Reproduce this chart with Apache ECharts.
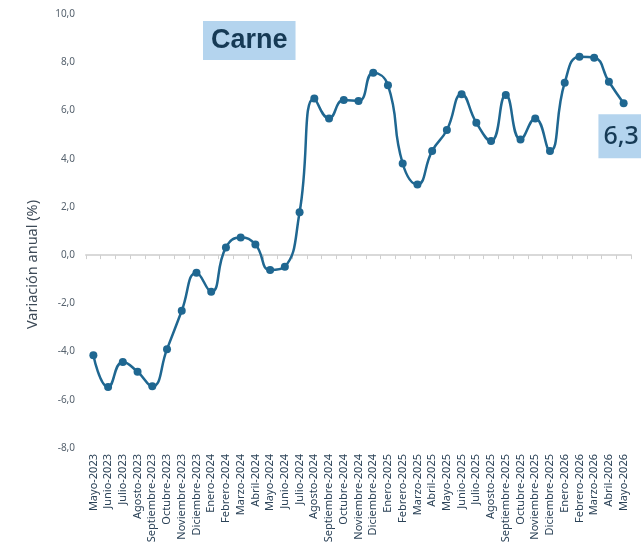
<!DOCTYPE html>
<html><head><meta charset="utf-8">
<script src="https://cdn.jsdelivr.net/npm/echarts@6/dist/echarts.min.js"></script>
<style>html,body{margin:0;padding:0;background:#fff}#c{width:641px;height:543px}</style>
</head><body><div id="c"></div>
<script>
const categories = ["Mayo-2023","Junio-2023","Julio-2023","Agosto-2023","Septiembre-2023","Octubre-2023","Noviembre-2023","Diciembre-2023","Enero-2024","Febrero-2024","Marzo-2024","Abril-2024","Mayo-2024","Junio-2024","Julio-2024","Agosto-2024","Septiembre-2024","Octubre-2024","Noviembre-2024","Diciembre-2024","Enero-2025","Febrero-2025","Marzo-2025","Abril-2025","Mayo-2025","Junio-2025","Julio-2025","Agosto-2025","Septiembre-2025","Octubre-2025","Noviembre-2025","Diciembre-2025","Enero-2026","Febrero-2026","Marzo-2026","Abril-2026","Mayo-2026"];
const values = [-4.15,-5.47,-4.43,-4.84,-5.44,-3.9,-2.31,-0.73,-1.52,0.32,0.73,0.44,-0.62,-0.48,1.78,6.5,5.67,6.43,6.39,7.56,7.05,3.8,2.93,4.32,5.19,6.67,5.49,4.73,6.64,4.8,5.67,4.32,7.15,8.23,8.19,7.19,6.3];
const titleText = "Carne";
const yName = "Variación anual (%)";

const fmt = v => v.toFixed(1).replace('.', ',');
const data = values.map((v, i) => i === values.length - 1 ? {
  value: v,
  label: {
    show: true, position: 'bottom', distance: 7,
    formatter: p => fmt(p.value),
    backgroundColor: '#b4d4ee', color: '#163a55',
    fontSize: 25, fontFamily: 'Noto Sans', fontWeight: 500, lineHeight: 26,
    padding: [10, 6, 8, 5], offset: [-2, 0]
  }
} : v);

const chart = echarts.init(document.getElementById('c'), null, {renderer: 'canvas'});
chart.setOption({
  animation: false,
  title: {
    text: titleText, left: 203, top: 21,
    backgroundColor: '#b4d4ee', padding: [6, 8, 6, 8],
    textStyle: {fontFamily: 'Liberation Sans', fontWeight: 'bold', fontSize: 27, color: '#163a55', lineHeight: 27}
  },
  graphic: [{
    type: 'text', left: 25, top: 200, rotation: Math.PI / 2,
    style: {text: yName, fontFamily: 'Noto Sans', fontSize: 14.5, fill: '#3d4a57'}
  }],
  grid: {left: 86, right: 10, top: 14, bottom: 95, containLabel: false, outerBoundsMode: 'none'},
  xAxis: {
    type: 'category', data: categories,
    axisLine: {onZero: true, lineStyle: {color: '#d9d9d9', width: 2}},
    axisTick: {show: true, length: 4, lineStyle: {color: '#cfcfcf', width: 1}},
    axisLabel: {rotate: 90, interval: 0, fontSize: 11, color: '#2b4257', fontFamily: 'Noto Sans', margin: 6}
  },
  yAxis: {
    type: 'value', min: -8, max: 10, interval: 2,
    splitLine: {show: false}, axisLine: {show: false}, axisTick: {show: false},
    axisLabel: {formatter: v => fmt(v), fontSize: 10, color: '#56626e', fontFamily: 'Noto Sans', margin: 11}
  },
  series: [{
    type: 'line', data: data, smooth: 0.5,
    symbol: 'circle', symbolSize: 8,
    lineStyle: {color: '#1f6791', width: 2.5},
    itemStyle: {color: '#1f6791'}
  }]
});
</script></body></html>
